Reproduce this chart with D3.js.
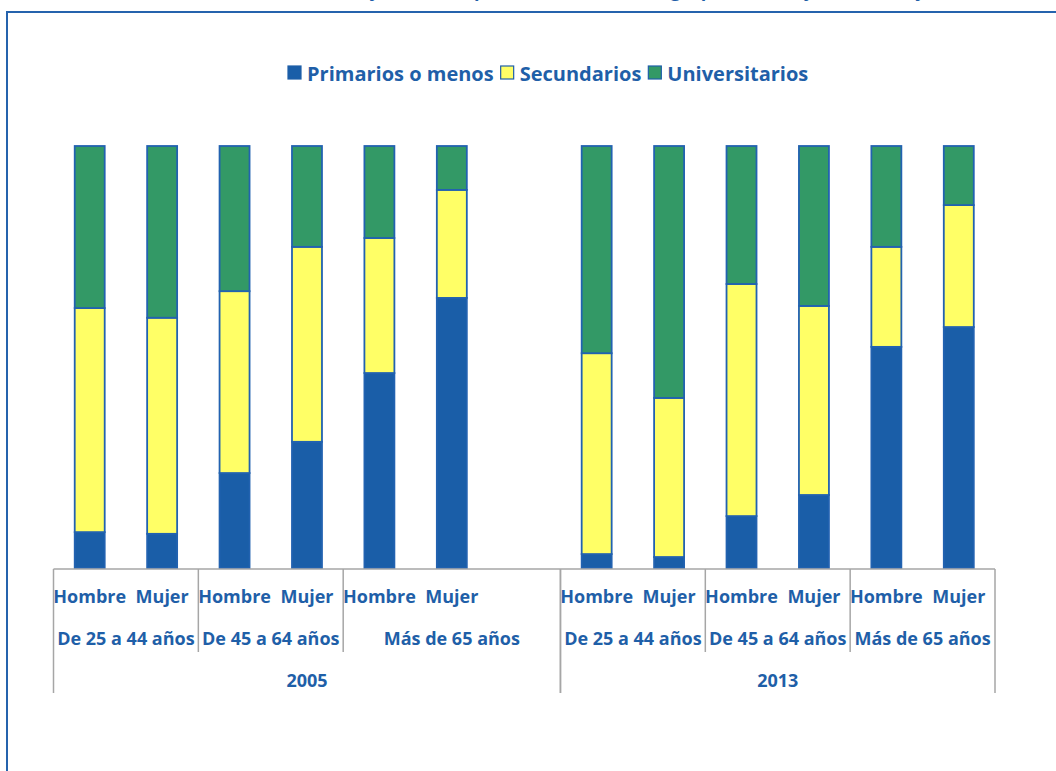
<!DOCTYPE html>
<html>
<head>
<meta charset="utf-8">
<script src="https://cdn.jsdelivr.net/npm/d3@7"></script>
<style>
  body { margin: 0; background: #fff; }
  svg { display: block; font-family: "Open Sans", sans-serif; font-weight: 700; }
</style>
</head>
<body>
<div id="chart"></div>
<script>
// data (percent of each bar)
const years = ["2005", "2013"];
const ageGroups = ["De 25 a 44 años", "De 45 a 64 años", "Más de 65 años"];
const sexes = ["Hombre", "Mujer"];
const seriesNames = ["Primarios o menos", "Secundarios", "Universitarios"];

const primarios      = [8.5, 8.1, 22.5, 29.9, 46.2, 64.0,   3.3, 2.6, 12.3, 17.3, 52.4, 57.1];
const secundarios    = [53.1, 51.2, 43.1, 46.2, 32.0, 25.6, 47.6, 37.7, 55.0, 44.8, 23.7, 28.9];
const universitarios = [38.4, 40.7, 34.4, 23.9, 21.8, 10.4, 49.1, 59.7, 32.7, 37.9, 23.9, 14.0];

const colors = ["#1a5ea8", "#ffff66", "#339966"];
const blue = "#1f5fa8";

const width = 1056, height = 771;

// build the slots: every bar, plus the empty slot that closes the 2005 group
const rows = [];
const slots = [];
let k = 0;
years.forEach(yr => {
  ageGroups.forEach(ag => {
    sexes.forEach(sx => {
      const key = yr + "|" + ag + "|" + sx;
      slots.push(key);
      rows.push({ key, year: yr, age: ag, sex: sx,
        "Primarios o menos": primarios[k], "Secundarios": secundarios[k], "Universitarios": universitarios[k] });
      k++;
    });
  });
  if (yr === "2005") slots.push(yr + "|" + ageGroups[2] + "|");
});

const x = d3.scaleBand().domain(slots).range([53.5, 995]).paddingInner(0.586).paddingOuter(0.293);
const y = d3.scaleLinear().domain([0, 100]).range([568, 146]);
const step = x.step();
const slotStart = key => x(key) - (step - x.bandwidth()) / 2;

const svg = d3.select("#chart").append("svg").attr("width", width).attr("height", height);

// outer frame
svg.append("rect")
  .attr("x", 7).attr("y", 12).attr("width", 1100).attr("height", 800)
  .attr("fill", "none").attr("stroke", "#2563ad").attr("stroke-width", 2);

// title (cut off at the top of the picture)
svg.append("text")
  .attr("x", 225).attr("y", -3)
  .attr("fill", blue).style("font-size", "18px")
  .text("Población de 25 y más años por nivel de estudios, grupo de edad y sexo, 2005 y 2013 (%)");

// legend
const legend = svg.append("g");
let lx = 288;
seriesNames.forEach((name, i) => {
  legend.append("rect")
    .attr("x", lx).attr("y", 66).attr("width", 13).attr("height", 13)
    .attr("fill", colors[i]).attr("stroke", blue).attr("stroke-width", 1.2);
  const t = legend.append("text")
    .attr("x", lx + 19).attr("y", 81)
    .attr("fill", blue).style("font-size", "20px")
    .text(name);
  lx += 19 + t.node().getComputedTextLength() + 7;
});

// stacked bars
const stack = d3.stack().keys(seriesNames);
const stacked = stack(rows);

svg.append("g").selectAll("g")
  .data(stacked)
  .join("g")
  .attr("fill", (d, i) => colors[i])
  .selectAll("rect")
  .data(d => d)
  .join("rect")
  .attr("x", d => x(d.data.key))
  .attr("width", x.bandwidth())
  .attr("y", d => y(d[1]))
  .attr("height", d => y(d[0]) - y(d[1]))
  .attr("stroke", "#2262b0")
  .attr("stroke-width", 1.8);

// category axis
const axis = svg.append("g").attr("stroke", "#a6a6a6").attr("stroke-width", 1.5);
const axisY = 569;
axis.append("line").attr("x1", 53.5).attr("x2", 995).attr("y1", axisY).attr("y2", axisY);

const labels = svg.append("g").attr("fill", blue).attr("text-anchor", "middle").style("font-size", "18px");

// sex labels
labels.selectAll("text.sex")
  .data(rows)
  .join("text")
  .attr("class", "sex")
  .attr("x", d => x(d.key) + x.bandwidth() / 2)
  .attr("y", 603)
  .text(d => d.sex);

// age groups and years
years.forEach(yr => {
  const yrSlots = slots.filter(s => s.startsWith(yr + "|"));
  const y0 = slotStart(yrSlots[0]);
  const y1 = slotStart(yrSlots[yrSlots.length - 1]) + step;
  axis.append("line").attr("x1", y0).attr("x2", y0).attr("y1", axisY).attr("y2", 693);
  axis.append("line").attr("x1", y1).attr("x2", y1).attr("y1", axisY).attr("y2", 693);
  labels.append("text").attr("x", (y0 + y1) / 2).attr("y", 687).text(yr);

  ageGroups.forEach((ag, gi) => {
    const gSlots = yrSlots.filter(s => s.split("|")[1] === ag);
    const g0 = slotStart(gSlots[0]);
    const g1 = slotStart(gSlots[gSlots.length - 1]) + step;
    if (gi > 0) axis.append("line").attr("x1", g0).attr("x2", g0).attr("y1", axisY).attr("y2", 652);
    labels.append("text").attr("x", (g0 + g1) / 2).attr("y", 645).text(ag);
  });
});
</script>
</body>
</html>
